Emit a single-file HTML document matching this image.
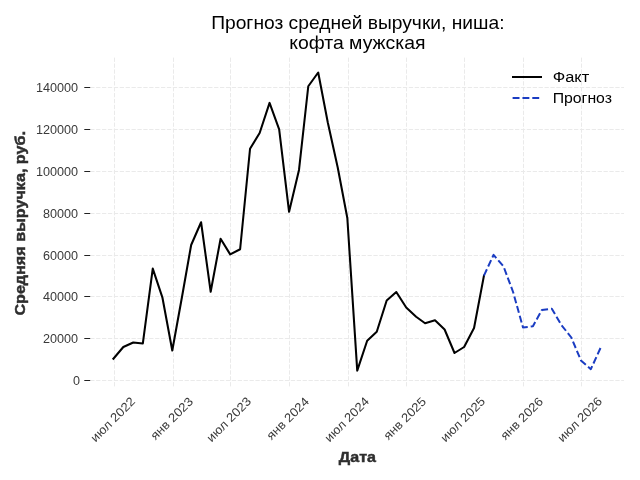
<!DOCTYPE html>
<html><head><meta charset="utf-8"><title>chart</title>
<style>
html,body{margin:0;padding:0;background:#fff;}
body{width:640px;height:480px;overflow:hidden;}
svg{display:block;will-change:transform;opacity:0.999;}
text{font-family:"Liberation Sans",sans-serif;}
</style></head><body>
<svg width="640" height="480" viewBox="0 0 640 480">
<rect width="640" height="480" fill="#ffffff"/>
<g stroke="#eaeaea" stroke-width="1" stroke-dasharray="4.3 1.6" fill="none">
<line x1="114.50" y1="386.4" x2="114.50" y2="57.6"/>
<line x1="173.50" y1="386.4" x2="173.50" y2="57.6"/>
<line x1="230.50" y1="386.4" x2="230.50" y2="57.6"/>
<line x1="289.50" y1="386.4" x2="289.50" y2="57.6"/>
<line x1="348.50" y1="386.4" x2="348.50" y2="57.6"/>
<line x1="406.50" y1="386.4" x2="406.50" y2="57.6"/>
<line x1="464.50" y1="386.4" x2="464.50" y2="57.6"/>
<line x1="523.50" y1="386.4" x2="523.50" y2="57.6"/>
<line x1="581.50" y1="386.4" x2="581.50" y2="57.6"/>
<line x1="90.2" y1="380.50" x2="624" y2="380.50"/>
<line x1="90.2" y1="338.50" x2="624" y2="338.50"/>
<line x1="90.2" y1="296.50" x2="624" y2="296.50"/>
<line x1="90.2" y1="255.50" x2="624" y2="255.50"/>
<line x1="90.2" y1="213.50" x2="624" y2="213.50"/>
<line x1="90.2" y1="171.50" x2="624" y2="171.50"/>
<line x1="90.2" y1="129.50" x2="624" y2="129.50"/>
<line x1="90.2" y1="87.50" x2="624" y2="87.50"/>
</g>
<g stroke="#222222" stroke-width="1">
<line x1="84.3" y1="380.50" x2="90.2" y2="380.50"/>
<line x1="84.3" y1="338.50" x2="90.2" y2="338.50"/>
<line x1="84.3" y1="296.50" x2="90.2" y2="296.50"/>
<line x1="84.3" y1="255.50" x2="90.2" y2="255.50"/>
<line x1="84.3" y1="213.50" x2="90.2" y2="213.50"/>
<line x1="84.3" y1="171.50" x2="90.2" y2="171.50"/>
<line x1="84.3" y1="129.50" x2="90.2" y2="129.50"/>
<line x1="84.3" y1="87.50" x2="90.2" y2="87.50"/>
</g>
<g font-size="12.3" fill="#3a3a3a" text-anchor="end">
<text x="80.0" y="384.85" textLength="7.0" lengthAdjust="spacingAndGlyphs">0</text>
<text x="78.1" y="342.85" textLength="35.1" lengthAdjust="spacingAndGlyphs">20000</text>
<text x="78.1" y="300.85" textLength="35.1" lengthAdjust="spacingAndGlyphs">40000</text>
<text x="78.1" y="259.85" textLength="35.1" lengthAdjust="spacingAndGlyphs">60000</text>
<text x="78.1" y="217.85" textLength="35.1" lengthAdjust="spacingAndGlyphs">80000</text>
<text x="78.1" y="175.85" textLength="42.2" lengthAdjust="spacingAndGlyphs">100000</text>
<text x="78.1" y="133.85" textLength="42.2" lengthAdjust="spacingAndGlyphs">120000</text>
<text x="78.1" y="91.85" textLength="42.2" lengthAdjust="spacingAndGlyphs">140000</text>
</g>
<g font-size="12.3" fill="#3a3a3a" text-anchor="middle">
<text x="112.70" y="423.70" textLength="57.3" lengthAdjust="spacingAndGlyphs" transform="rotate(-45 112.70 419.40)">июл 2022</text>
<text x="171.70" y="422.70" textLength="54.1" lengthAdjust="spacingAndGlyphs" transform="rotate(-45 171.70 418.40)">янв 2023</text>
<text x="228.70" y="423.70" textLength="57.3" lengthAdjust="spacingAndGlyphs" transform="rotate(-45 228.70 419.40)">июл 2023</text>
<text x="287.70" y="422.70" textLength="54.1" lengthAdjust="spacingAndGlyphs" transform="rotate(-45 287.70 418.40)">янв 2024</text>
<text x="346.70" y="423.70" textLength="57.3" lengthAdjust="spacingAndGlyphs" transform="rotate(-45 346.70 419.40)">июл 2024</text>
<text x="404.70" y="422.70" textLength="54.1" lengthAdjust="spacingAndGlyphs" transform="rotate(-45 404.70 418.40)">янв 2025</text>
<text x="462.70" y="423.70" textLength="57.3" lengthAdjust="spacingAndGlyphs" transform="rotate(-45 462.70 419.40)">июл 2025</text>
<text x="521.70" y="422.70" textLength="54.1" lengthAdjust="spacingAndGlyphs" transform="rotate(-45 521.70 418.40)">янв 2026</text>
<text x="579.70" y="423.70" textLength="57.3" lengthAdjust="spacingAndGlyphs" transform="rotate(-45 579.70 419.40)">июл 2026</text>
</g>
<polyline points="113.40,358.75 123.32,347.00 133.24,342.50 142.84,343.40 152.76,268.60 162.36,297.30 172.28,350.50 182.20,295.70 191.16,245.00 201.08,222.25 210.68,291.75 220.60,238.75 230.20,254.40 240.12,249.25 250.04,148.75 259.64,133.00 269.56,102.90 279.16,129.30 289.08,211.80 299.00,169.90 308.28,86.25 318.20,72.50 327.80,122.50 337.72,167.50 347.32,218.00 357.24,370.60 367.16,340.75 376.76,331.75 386.68,300.50 396.28,292.00 406.20,307.50 416.12,316.75 425.08,323.25 435.00,320.25 444.60,329.50 454.52,353.00 464.12,347.00 474.04,328.00 483.96,275.60" fill="none" stroke="#000000" stroke-width="2.05" stroke-linejoin="round" stroke-linecap="square"/>
<polyline points="483.96,275.60 493.56,254.90 503.48,266.25 513.08,292.00 523.00,327.50 532.92,326.25 541.88,310.00 551.80,308.75 561.40,325.00 571.32,337.50 580.92,360.40 590.84,369.20 600.76,347.40" fill="none" stroke="#1a3cc2" stroke-width="2.0" stroke-dasharray="7 3" stroke-linejoin="round"/>
<line x1="512" y1="77" x2="542" y2="77" stroke="#000" stroke-width="2"/>
<line x1="512.6" y1="98" x2="541" y2="98" stroke="#1a3cc2" stroke-width="2" stroke-dasharray="6.9 2.95"/>
<text x="552.7" y="82.2" font-size="14" fill="#000" textLength="36.5" lengthAdjust="spacingAndGlyphs">Факт</text>
<text x="552.7" y="103.4" font-size="14" fill="#000" textLength="59.3" lengthAdjust="spacingAndGlyphs">Прогноз</text>
<text x="211.2" y="28.75" font-size="17.8" fill="#000" textLength="293.3" lengthAdjust="spacingAndGlyphs">Прогноз средней выручки, ниша:</text>
<text x="289.2" y="49.3" font-size="17.8" fill="#000" textLength="136.3" lengthAdjust="spacingAndGlyphs">кофта мужская</text>
<text x="338.8" y="461.7" font-size="14" font-weight="bold" fill="#2e2e2e" stroke="#2e2e2e" stroke-width="0.45" textLength="37.1" lengthAdjust="spacingAndGlyphs">Дата</text>
<text x="0" y="0" font-size="14" font-weight="bold" fill="#2e2e2e" stroke="#2e2e2e" stroke-width="0.45" textLength="184.5" lengthAdjust="spacingAndGlyphs" transform="translate(25.3 315.6) rotate(-90)">Средняя выручка, руб.</text>
</svg></body></html>
